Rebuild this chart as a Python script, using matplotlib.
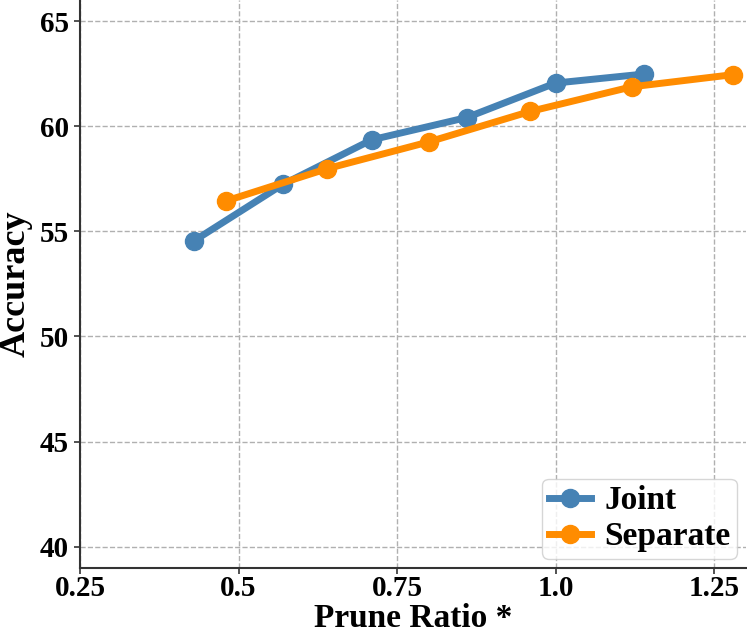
import matplotlib
matplotlib.use("Agg")
import matplotlib.pyplot as plt

joint_x = [0.43, 0.57, 0.71, 0.86, 1.00, 1.14]
joint_y = [54.55, 57.23, 59.35, 60.41, 62.05, 62.48]
sep_x = [0.48, 0.64, 0.80, 0.96, 1.12, 1.28]
sep_y = [56.44, 57.98, 59.25, 60.70, 61.87, 62.45]
xticks = [0.25, 0.5, 0.75, 1.0, 1.25]
xticklabels = ["0.25", "0.5", "0.75", "1.0", "1.25"]
yticks = [40, 45, 50, 55, 60, 65]

plt.rcParams['font.family'] = ['Liberation Serif', 'DejaVu Serif']
plt.rcParams['font.weight'] = 'bold'

fig = plt.figure(figsize=(7.47, 6.37), dpi=100)
ax = fig.add_axes([80/747, 1-567.7/637, (745.7-80)/747, 567.7/637])

ax.plot(joint_x, joint_y, color='#4682B4', lw=5, marker='o', ms=13, label='Joint', zorder=3)
ax.plot(sep_x, sep_y, color='#FF8C00', lw=5, marker='o', ms=13, label='Separate', zorder=3)

ax.set_xlim(0.25, 1.30)
ax.set_ylim(39, 66)
ax.set_xticks(xticks)
ax.set_xticklabels(xticklabels)
ax.set_yticks(yticks)
ax.grid(True, ls='--', color='#b0b0b0', lw=1)
ax.set_axisbelow(True)
for s in ['top', 'right']:
    ax.spines[s].set_visible(False)
for s in ['left', 'bottom']:
    ax.spines[s].set_color('#333333')
    ax.spines[s].set_linewidth(1.5)
ax.tick_params(axis='both', labelsize=21, color='#333333', width=1.2, length=4)
ax.tick_params(axis='x', pad=1.5)
ax.tick_params(axis='y', pad=4)
for lab in ax.get_xticklabels() + ax.get_yticklabels():
    lab.set_fontweight('bold')

ax.set_xlabel('Prune Ratio *', fontsize=24, fontweight='bold')
ax.set_ylabel('Accuracy', fontsize=26, fontweight='bold')
ax.xaxis.set_label_coords(0.5, -0.0629)
ax.yaxis.set_label_coords(-0.071, 0.5)

leg = ax.legend(loc='lower right', prop={'weight': 'bold', 'size': 24},
                handlelength=1.25, handletextpad=0.4, borderpad=0.2, labelspacing=0.15,
                borderaxespad=0.26, framealpha=0.8, markerscale=1.0)
leg.get_frame().set_edgecolor('#cccccc')

fig.savefig('out.png', dpi=100)
